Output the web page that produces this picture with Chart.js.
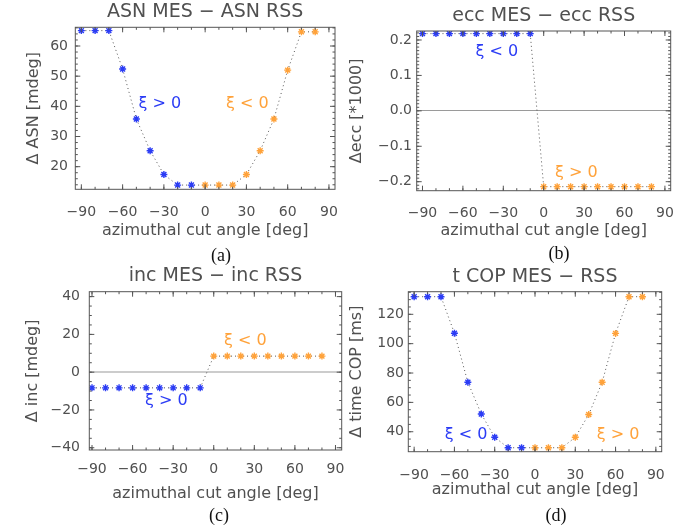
<!DOCTYPE html>
<html>
<head>
<meta charset="utf-8">
<script src="https://cdn.jsdelivr.net/npm/chart.js@4.4.1/dist/chart.umd.min.js"></script>
<style>
  body { margin: 0; background: #fff; width: 699px; height: 531px; position: relative; overflow: hidden; }
  .panel { position: absolute; }
  .sub { position: absolute; font-family: "Liberation Serif", serif; font-size: 18px; line-height: 18px; color: #111; transform: translateX(-50%); }
</style>
</head>
<body>
<div class="panel" style="left:0;top:0;width:349px;height:242px"><canvas id="cA"></canvas></div>
<div class="panel" style="left:349px;top:0;width:350px;height:242px"><canvas id="cB"></canvas></div>
<div class="panel" style="left:0;top:265px;width:349px;height:242px"><canvas id="cC"></canvas></div>
<div class="panel" style="left:349px;top:265px;width:350px;height:242px"><canvas id="cD"></canvas></div>
<div class="sub" style="left:221px;top:246px">(a)</div>
<div class="sub" style="left:559px;top:244px">(b)</div>
<div class="sub" style="left:219px;top:506px">(c)</div>
<div class="sub" style="left:556px;top:506px">(d)</div>
<script>
// azimuthal cut angles [deg]
const angles = [-90, -80, -70, -60, -50, -40, -30, -20, -10, 0, 10, 20, 30, 40, 50, 60, 70, 80];

// differences MES - RSS
const asnDiff = [65.1, 65.1, 65.1, 52.4, 35.8, 25.3, 17.4, 13.9, 13.9, 13.9, 13.9, 13.9, 17.4, 25.3, 35.8, 52.0, 64.7, 64.7];
const eccDiff = [0.218, 0.218, 0.218, 0.218, 0.218, 0.218, 0.218, 0.218, 0.218, -0.214, -0.214, -0.214, -0.214, -0.214, -0.214, -0.214, -0.214, -0.214];
const incDiff = [-8.3, -8.3, -8.3, -8.3, -8.3, -8.3, -8.3, -8.3, -8.3, 8.5, 8.5, 8.5, 8.5, 8.5, 8.5, 8.5, 8.5, 8.5];
const copDiff = [132, 132, 132, 107.1, 73.7, 52.1, 36.2, 29.1, 29.1, 29.1, 29.1, 29.1, 36.2, 51.7, 73.7, 107, 132, 132];

// tick labels
const xTicks = [-90, -60, -30, 0, 30, 60, 90];
const asnTicks = [20, 30, 40, 50, 60];
const eccTicks = [-0.2, -0.1, 0, 0.1, 0.2];
const incTicks = [-40, -20, 0, 20, 40];
const copTicks = [40, 60, 80, 100, 120];

const BLUE = '#2b3cf5';
const ORANGE = '#ffa23a';
const TEXT = '#505050';
const FONT = '"DejaVu Sans", sans-serif';

const minus = s => String(s).replace('-', '\u2212');

// box + inward ticks on all four sides, like the IDL plot
const framePlugin = {
  id: 'frame',
  afterDraw(chart, args, opts) {
    const { ctx, chartArea: a, scales: { x, y } } = chart;
    ctx.save();
    ctx.strokeStyle = '#555';
    ctx.lineWidth = 1;
    ctx.strokeRect(a.left, a.top, a.right - a.left, a.bottom - a.top);
    ctx.beginPath();
    const markX = (v, len) => {
      const p = x.getPixelForValue(v);
      if (p < a.left || p > a.right) return;
      ctx.moveTo(p, a.bottom); ctx.lineTo(p, a.bottom - len);
      ctx.moveTo(p, a.top); ctx.lineTo(p, a.top + len);
    };
    const markY = (v, len) => {
      const p = y.getPixelForValue(v);
      if (p < a.top || p > a.bottom) return;
      ctx.moveTo(a.left, p); ctx.lineTo(a.left + len, p);
      ctx.moveTo(a.right, p); ctx.lineTo(a.right - len, p);
    };
    for (let i = Math.ceil(x.min / opts.xMinor); i * opts.xMinor <= x.max; i++) markX(i * opts.xMinor, 2.5);
    for (let i = Math.ceil(y.min / opts.yMinor); i * opts.yMinor <= y.max; i++) markY(i * opts.yMinor, 2.5);
    opts.xMajor.forEach(v => markX(v, 5));
    opts.yMajor.forEach(v => markY(v, 5));
    ctx.stroke();
    ctx.restore();
  }
};

// the xi labels, placed in data coordinates
const notesPlugin = {
  id: 'notes',
  afterDatasetsDraw(chart, args, opts) {
    const { ctx, scales: { x, y } } = chart;
    ctx.save();
    ctx.font = '16px ' + FONT;
    ctx.textAlign = 'center';
    ctx.textBaseline = 'middle';
    opts.items.forEach(n => {
      ctx.fillStyle = n.color;
      ctx.fillText(n.text, x.getPixelForValue(n.x), y.getPixelForValue(n.y));
    });
    ctx.restore();
  }
};

function makePanel(id, cfg) {
  const colorAt = c => (angles[c.dataIndex] < 0 ? BLUE : ORANGE);
  new Chart(document.getElementById(id), {
    type: 'line',
    data: {
      datasets: [{
        data: angles.map((a, i) => ({ x: a, y: cfg.values[i] })),
        borderColor: '#555',
        borderWidth: 1,
        borderDash: [1, 3],
        pointStyle: 'star',
        pointRadius: 3.5,
        pointBorderWidth: 1.4,
        pointBorderColor: colorAt,
        pointBackgroundColor: colorAt,
        tension: 0
      }]
    },
    options: {
      responsive: true,
      maintainAspectRatio: false,
      animation: false,
      layout: { padding: { left: 0, top: 0, bottom: 0, right: cfg.padRight } },
      plugins: {
        legend: { display: false },
        tooltip: { enabled: false },
        title: {
          display: true,
          text: cfg.title,
          fullSize: false,
          color: TEXT,
          font: { family: FONT, size: 19, weight: 'normal', lineHeight: 1 },
          padding: { top: cfg.titleTop, bottom: cfg.titleBottom }
        },
        frame: { xMinor: 10, yMinor: cfg.yMinor, xMajor: xTicks, yMajor: cfg.yTicks },
        notes: { items: cfg.notes }
      },
      scales: {
        x: {
          type: 'linear',
          min: cfg.xMin,
          max: cfg.xMax,
          afterFit: s => { s.height = cfg.xH; },
          afterBuildTicks: s => { s.ticks = xTicks.map(v => ({ value: v })); },
          grid: { display: false },
          border: { display: false },
          ticks: {
            color: TEXT, font: { family: FONT, size: 14, lineHeight: 1 },
            padding: cfg.xTickPad, maxRotation: 0, autoSkip: false,
            callback: v => minus(v)
          },
          title: {
            display: true, text: 'azimuthal cut angle [deg]', color: TEXT,
            font: { family: FONT, size: 16, lineHeight: 1 },
            padding: { top: 0, bottom: cfg.xTitlePad }
          }
        },
        y: {
          min: cfg.yMin,
          max: cfg.yMax,
          afterFit: s => { s.width = cfg.yW; },
          afterBuildTicks: s => { s.ticks = cfg.yTicks.map(v => ({ value: v })); },
          grid: {
            display: true, drawTicks: false,
            color: c => (c.tick && c.tick.value === 0 ? cfg.zeroColor : 'rgba(0,0,0,0)'),
            lineWidth: cfg.zeroWidth
          },
          border: { display: false },
          ticks: {
            color: TEXT, font: { family: FONT, size: 14, lineHeight: 1 },
            padding: cfg.yTickPad, autoSkip: false,
            callback: cfg.yFormat
          },
          title: {
            display: true, text: cfg.yTitle, color: TEXT,
            font: { family: FONT, size: 16, lineHeight: 1 },
            padding: { top: cfg.yTitlePad, bottom: 0 }
          }
        }
      }
    },
    plugins: [framePlugin, notesPlugin]
  });
}

makePanel('cA', {
  title: 'ASN MES \u2212 ASN RSS', values: asnDiff,
  xMin: -94.4, xMax: 94.4, yMin: 12.5, yMax: 66.2, yTicks: asnTicks, yMinor: 2,
  yFormat: v => minus(v), yTitle: '\u0394 ASN [mdeg]',
  yW: 75.3, xH: 242 - 189.3, padRight: 14,
  titleTop: 2.5, titleBottom: 5.8, xTickPad: 8, xTitlePad: 3, yTickPad: 7.3, yTitlePad: 26,
  zeroColor: 'rgba(0,0,0,0)', zeroWidth: 1,
  notes: [
    { x: -33, y: 40.8, text: '\u03be > 0', color: BLUE },
    { x: 30.7, y: 40.8, text: '\u03be < 0', color: ORANGE }
  ]
});

makePanel('cB', {
  title: 'ecc MES \u2212 ecc RSS', values: eccDiff,
  xMin: -94.3, xMax: 94.3, yMin: -0.2254, yMax: 0.2254, yTicks: eccTicks, yMinor: 0.01,
  yFormat: v => minus(v.toFixed(1)), yTitle: '\u0394ecc [*1000]',
  yW: 67.7, xH: 242 - 190.7, padRight: 28.3,
  titleTop: 6.8, titleBottom: 5.2, xTickPad: 7.4, xTitlePad: 3, yTickPad: 4.7, yTitlePad: 0,
  zeroColor: '#9a9a9a', zeroWidth: 1,
  notes: [
    { x: -34.8, y: 0.166, text: '\u03be < 0', color: BLUE },
    { x: 24.2, y: -0.175, text: '\u03be > 0', color: ORANGE }
  ]
});

makePanel('cC', {
  title: 'inc MES \u2212 inc RSS', values: incDiff,
  xMin: -92, xMax: 94.6, yMin: -41.2, yMax: 42.6, yTicks: incTicks, yMinor: 5,
  yFormat: v => minus(v), yTitle: '\u0394 inc [mdeg]',
  yW: 89.3, xH: 242 - 185, padRight: 7.3,
  titleTop: 1.3, titleBottom: 6.4, xTickPad: 4, xTitlePad: 5.5, yTickPad: 9.3, yTitlePad: 25,
  zeroColor: '#cccccc', zeroWidth: 2,
  notes: [
    { x: -35.1, y: -15.4, text: '\u03be > 0', color: BLUE },
    { x: 23.3, y: 16.4, text: '\u03be < 0', color: ORANGE }
  ]
});

makePanel('cD', {
  title: 't COP MES \u2212 RSS', values: copDiff,
  xMin: -94.35, xMax: 94.35, yMin: 26.4, yMax: 135.4, yTicks: copTicks, yMinor: 5,
  yFormat: v => minus(v), yTitle: '\u0394 time COP [ms]',
  yW: 59.3, xH: 242 - 186.7, padRight: 37.3,
  titleTop: 3, titleBottom: 4.7, xTickPad: 8.5, xTitlePad: 9, yTickPad: 4.3, yTitlePad: 0,
  zeroColor: 'rgba(0,0,0,0)', zeroWidth: 1,
  notes: [
    { x: -51.3, y: 37.8, text: '\u03be < 0', color: BLUE },
    { x: 61.9, y: 37.8, text: '\u03be > 0', color: ORANGE }
  ]
});
</script>
</body>
</html>
